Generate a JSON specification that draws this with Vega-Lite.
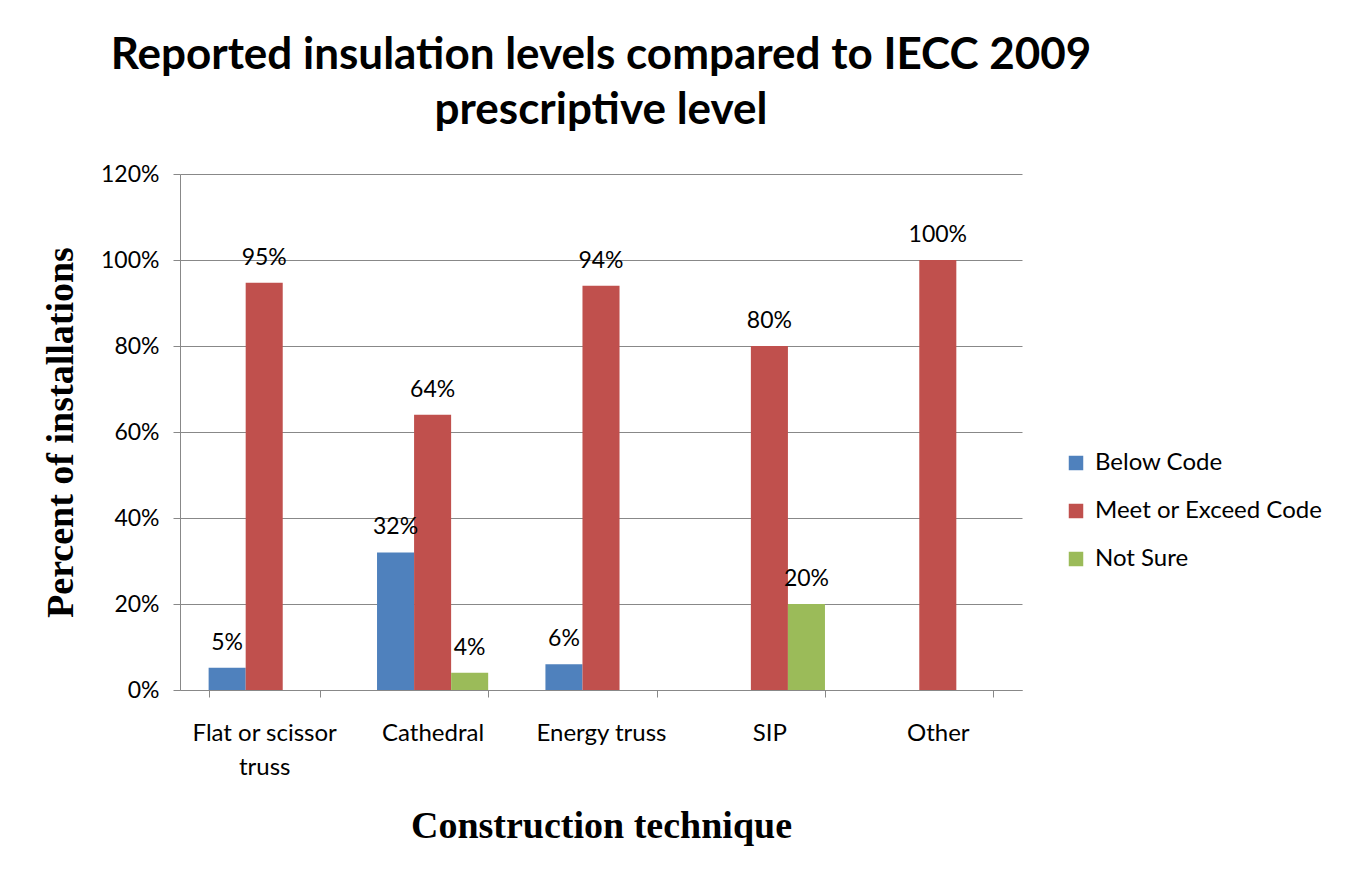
{
  "$schema": "https://vega.github.io/schema/vega-lite/v6.json",
  "width": 842,
  "height": 516,
  "autosize": {"type": "none"},
  "padding": {"left": 180, "top": 174, "right": 324, "bottom": 187},
  "background": "white",
  "title": {
    "text": ["Reported insulation levels compared to IECC 2009", "prescriptive level"],
    "font": "Lato",
    "fontSize": 44,
    "fontWeight": "bold",
    "color": "black",
    "anchor": "middle",
    "frame": "group",
    "offset": 30,
    "lineHeight": 55
  },
  "data": {
    "values": [
      {"technique": "Flat or scissor truss", "response": "Below Code", "value": 0.052},
      {"technique": "Flat or scissor truss", "response": "Meet or Exceed Code", "value": 0.947},
      {"technique": "Cathedral", "response": "Below Code", "value": 0.32},
      {"technique": "Cathedral", "response": "Meet or Exceed Code", "value": 0.64},
      {"technique": "Cathedral", "response": "Not Sure", "value": 0.04},
      {"technique": "Energy truss", "response": "Below Code", "value": 0.06},
      {"technique": "Energy truss", "response": "Meet or Exceed Code", "value": 0.94},
      {"technique": "SIP", "response": "Meet or Exceed Code", "value": 0.80},
      {"technique": "SIP", "response": "Not Sure", "value": 0.20},
      {"technique": "Other", "response": "Meet or Exceed Code", "value": 1.0}
    ]
  },
  "encoding": {
    "x": {
      "field": "technique",
      "type": "nominal",
      "sort": ["Flat or scissor truss", "Cathedral", "Energy truss", "SIP", "Other"],
      "scale": {"paddingInner": 0.34, "paddingOuter": 0.17},
      "axis": {
        "labelAngle": 0,
        "tickBand": "extent",
        "labelExpr": "datum.label == 'Flat or scissor truss' ? ['Flat or scissor', 'truss'] : datum.label",
        "labelLineHeight": 34,
        "labelFont": "Lato",
        "labelFontSize": 24,
        "labelColor": "black",
        "labelLimit": 0,
        "tickSize": 7,
        "tickColor": "#888888",
        "labelPadding": 24,
        "domainColor": "#888888",
        "grid": false,
        "title": "Construction technique",
        "titleFont": "Liberation Serif",
        "titleFontSize": 38,
        "titleFontWeight": "bold",
        "titleColor": "black",
        "titlePadding": 28
      }
    },
    "xOffset": {
      "field": "response",
      "type": "nominal",
      "sort": ["Below Code", "Meet or Exceed Code", "Not Sure"],
      "scale": {"domain": ["Below Code", "Meet or Exceed Code", "Not Sure"], "paddingInner": 0, "paddingOuter": 0}
    },
    "y": {
      "field": "value",
      "type": "quantitative",
      "scale": {"domain": [0, 1.2]},
      "axis": {
        "values": [0, 0.2, 0.4, 0.6, 0.8, 1.0, 1.2],
        "format": ".0%",
        "labelFont": "Lato",
        "labelFontSize": 23,
        "labelColor": "black",
        "tickSize": 7,
        "tickColor": "#888888",
        "labelPadding": 14,
        "domainColor": "#888888",
        "gridColor": "#888888",
        "gridWidth": 1,
        "title": "Percent of installations",
        "titleFont": "Liberation Serif",
        "titleFontSize": 38,
        "titleFontWeight": "bold",
        "titleColor": "black",
        "titlePadding": 20
      }
    }
  },
  "layer": [
    {
      "mark": {"type": "bar"},
      "encoding": {
        "color": {
          "field": "response",
          "type": "nominal",
          "scale": {
            "domain": ["Below Code", "Meet or Exceed Code", "Not Sure"],
            "range": ["#4F81BD", "#C0504D", "#9BBB59"]
          },
          "legend": {
            "title": null,
            "orient": "none",
            "legendX": 884,
            "legendY": 277,
            "symbolType": "square",
            "symbolSize": 210,
            "symbolStrokeWidth": 0,
            "labelFont": "Lato",
            "labelFontSize": 24,
            "labelColor": "black",
            "labelLimit": 0,
            "rowPadding": 24,
            "labelOffset": 7
          }
        }
      }
    },
    {
      "mark": {"type": "text", "baseline": "alphabetic", "dy": -18, "font": "Lato", "fontSize": 23, "color": "black"},
      "encoding": {
        "text": {"field": "value", "type": "quantitative", "format": ".0%"}
      }
    }
  ],
  "config": {"view": {"stroke": null}}
}
